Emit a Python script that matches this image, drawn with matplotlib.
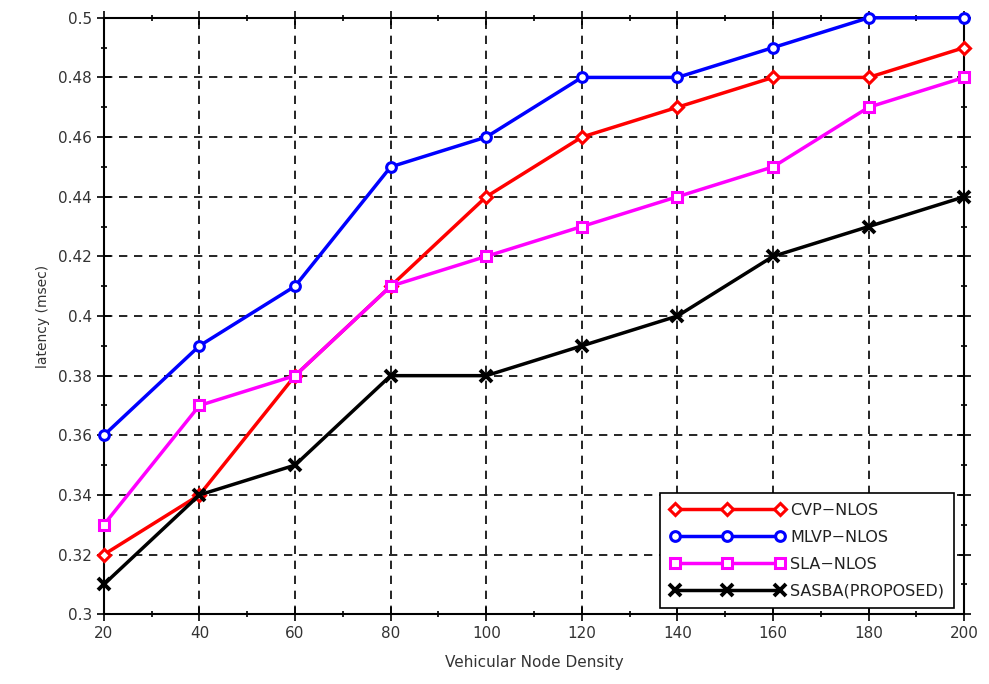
import numpy as np
import matplotlib
matplotlib.use('Agg')
from matplotlib import pyplot as plt
from matplotlib.ticker import MultipleLocator

density = [20, 40, 60, 80, 100, 120, 140, 160, 180, 200]
cvp_nlos = [0.32, 0.34, 0.38, 0.41, 0.44, 0.46, 0.47, 0.48, 0.48, 0.49]
mlvp_nlos = [0.36, 0.39, 0.41, 0.45, 0.46, 0.48, 0.48, 0.49, 0.50, 0.50]
sla_nlos = [0.33, 0.37, 0.38, 0.41, 0.42, 0.43, 0.44, 0.45, 0.47, 0.48]
sasba = [0.31, 0.34, 0.35, 0.38, 0.38, 0.39, 0.40, 0.42, 0.43, 0.44]

plt.rcParams['font.family'] = 'DejaVu Sans'

fig = plt.figure(figsize=(9.89, 6.84), dpi=100)
ax = fig.add_axes([0.105, 0.102, 0.87, 0.872])

ax.plot(density, cvp_nlos, color='red', lw=2.5, marker='D', ms=6, mfc='white',
        mec='red', mew=2.2, label='CVP\u2212NLOS', clip_on=False, zorder=3)
ax.plot(density, mlvp_nlos, color='blue', lw=2.5, marker='o', ms=7, mfc='white',
        mec='blue', mew=2.2, label='MLVP\u2212NLOS', clip_on=False, zorder=3)
ax.plot(density, sla_nlos, color='magenta', lw=2.5, marker='s', ms=7, mfc='white',
        mec='magenta', mew=2.2, label='SLA\u2212NLOS', clip_on=False, zorder=3)
ax.plot(density, sasba, color='black', lw=2.5, marker='x', ms=8,
        mew=2.8, label='SASBA(PROPOSED)', clip_on=False, zorder=3)

ax.set_xlim(20, 200)
ax.set_ylim(0.3, 0.5)
ax.set_xticks(density)
ax.set_yticks(np.round(np.arange(0.3, 0.501, 0.02), 2))
ax.set_yticklabels(['0.3', '0.32', '0.34', '0.36', '0.38', '0.4', '0.42',
                    '0.44', '0.46', '0.48', '0.5'])
ax.xaxis.set_minor_locator(MultipleLocator(10))
ax.yaxis.set_minor_locator(MultipleLocator(0.01))
ax.tick_params(which='both', direction='inout', top=True, right=True,
               labelsize=11, labelcolor='#333333', width=1.2)
ax.tick_params(which='major', length=10)
ax.tick_params(which='minor', length=5)
ax.grid(True, which='major', color='black', ls=(0, (5, 4)), lw=1.2)
for s in ax.spines.values():
    s.set_linewidth(1.5)

ax.set_xlabel('Vehicular Node Density', fontsize=11, color='#333333', labelpad=10)
ax.set_ylabel('latency (msec)', fontsize=10, color='#333333', labelpad=6)

leg = ax.legend(loc='lower right', bbox_to_anchor=(0.988, 0.01), fontsize=11.5,
                numpoints=3, handlelength=7.2, fancybox=False, framealpha=1,
                edgecolor='black', borderpad=0.6, labelspacing=0.75,
                handletextpad=0.35, borderaxespad=0.0)
leg.get_frame().set_linewidth(1.2)
for t in leg.get_texts():
    t.set_color('#222222')

fig.savefig('out.png', dpi=100)
